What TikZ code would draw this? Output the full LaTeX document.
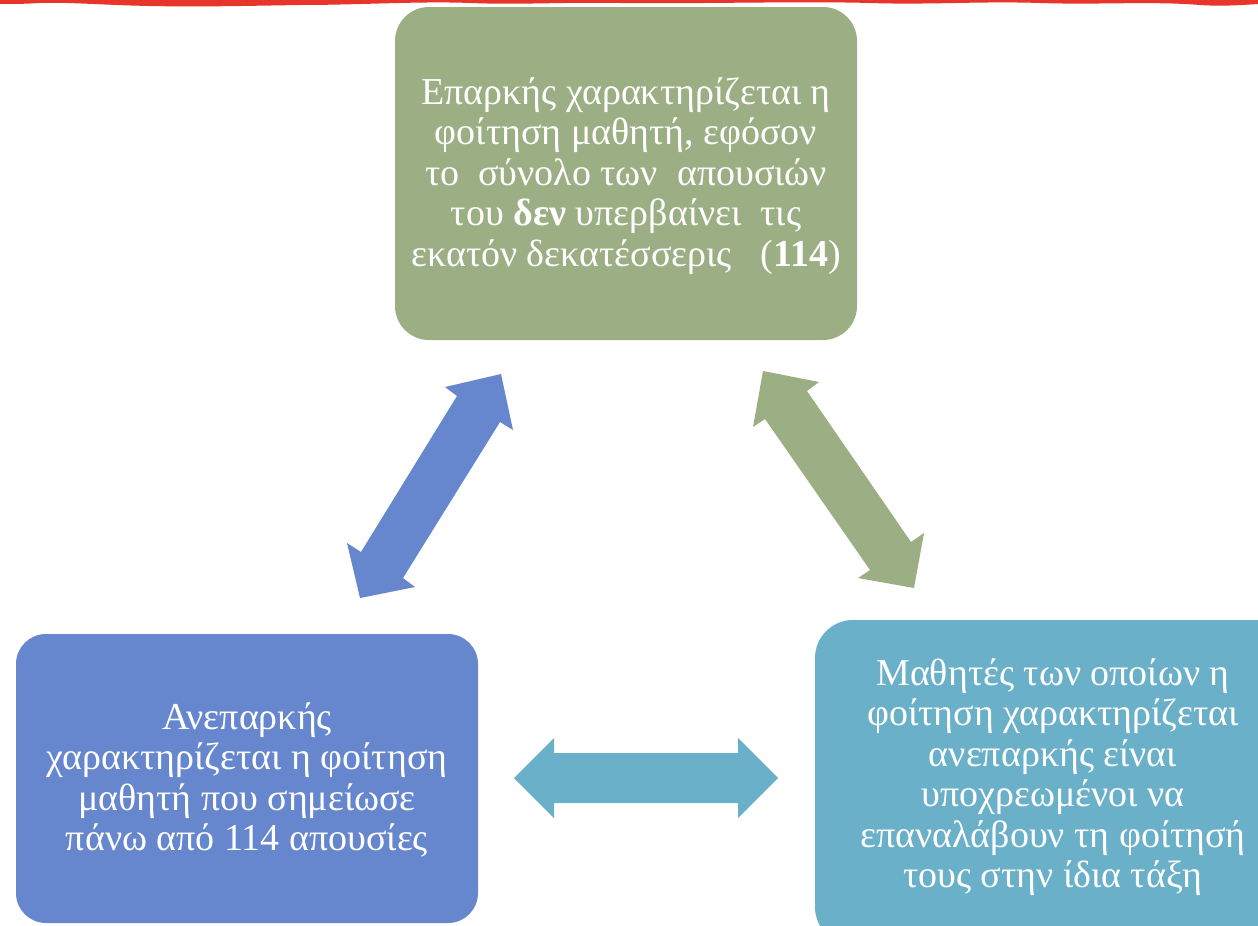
\documentclass[tikz,border=0pt]{standalone}
\usepackage{fontspec}
\setmainfont{Liberation Serif}
\definecolor{boxgreen}{HTML}{9CAF84}
\definecolor{boxblue}{HTML}{6686CE}
\definecolor{boxteal}{HTML}{6BB0C9}
\definecolor{bandred}{HTML}{E8352B}
\tikzset{
  card/.style={rounded corners=34pt, draw=none},
  cardtext/.style={text=white, align=center, font=\fontsize{38}{40.5}\selectfont, inner sep=0pt},
  bigarrow/.style={draw=none}
}
\begin{document}
\begin{tikzpicture}[x=1pt,y=-1pt]
\useasboundingbox (0,0) rectangle (1258,926);
\fill[white] (0,0) rectangle (1258,926);
% red wavy band
\fill[bandred] (0,0) -- (1258,0) -- (1258,4)
  .. controls (1230,6) and (1215,6) .. (1200,5)
  .. controls (1150,1) and (1100,5) .. (1040,3)
  .. controls (980,1) and (930,5) .. (870,3)
  .. controls (800,1) and (700,4) .. (620,3)
  .. controls (560,2) and (520,5) .. (470,3)
  .. controls (420,1) and (360,5) .. (300,5)
  .. controls (240,6) and (200,7) .. (150,6)
  .. controls (100,5) and (70,2) .. (40,3)
  .. controls (25,4) and (10,4) .. (0,4) -- cycle;
% boxes
\fill[boxgreen,card] (395,7) rectangle (857,340);
\coordinate (topc) at (626,176);
\fill[boxblue,card,rounded corners=30pt] (16,634) rectangle (478,923);
\coordinate (leftc) at (247,780);
\fill[boxteal,card,rounded corners=38pt] (815,620) rectangle (1295,945);
\coordinate (rightc) at (1053,777);
\node[cardtext] (top) at (topc) {Επαρκής χαρακτηρίζεται η\\φοίτηση μαθητή, εφόσον\\το\ \ σύνολο των\ \ απουσιών\\του \textbf{δεν} υπερβαίνει\ \ τις\\εκατόν δεκατέσσερις\ \ \ (\textbf{114})};
\node[cardtext] (left) at (leftc) {Ανεπαρκής\\χαρακτηρίζεται η φοίτηση\\μαθητή που σημείωσε\\πάνω από 114 απουσίες};
\node[cardtext] (right) at (rightc) {Μαθητές των οποίων η\\φοίτηση χαρακτηρίζεται\\ανεπαρκής είναι\\υποχρεωμένοι να\\επαναλάβουν τη φοίτησή\\τους στην ίδια τάξη};
% horizontal teal double arrow
\fill[boxteal,bigarrow] (514,778) -- (554,738) -- (554,753) -- (738,753) -- (738,738) -- (778,778)
  -- (738,818) -- (738,803) -- (554,803) -- (554,818) -- cycle;
% blue diagonal double arrow
\fill[boxblue,bigarrow] (501,374) -- (513,430) -- (500,422) -- (403,578) -- (415,587) -- (360,598)
  -- (347,543) -- (361,552) -- (457,396) -- (445,387) -- cycle;
% green diagonal double arrow
\fill[boxgreen,bigarrow] (763,371) -- (819,382) -- (807,391) -- (911,542) -- (924,533) -- (914,588)
  -- (858,578) -- (870,570) -- (765,419) -- (753,427) -- cycle;
\end{tikzpicture}
\end{document}
